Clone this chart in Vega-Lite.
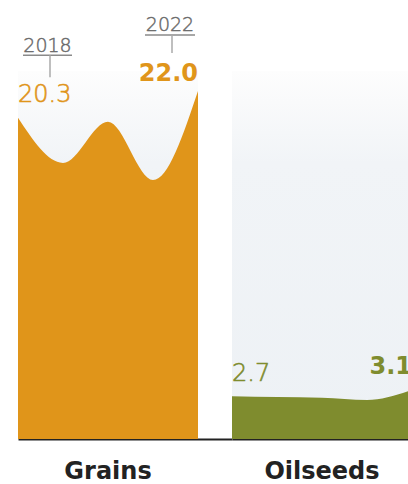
{
  "$schema": "https://vega.github.io/schema/vega-lite/v6.json",
  "autosize": {"type": "pad"},
  "padding": {"left": 18, "top": 15, "right": 0, "bottom": 0},
  "background": "#ffffff",
  "data": {"values": [
    {"crop": "Grains", "year": 2018, "value": 20.3},
    {"crop": "Grains", "year": 2019, "value": 17.45},
    {"crop": "Grains", "year": 2020, "value": 20.06},
    {"crop": "Grains", "year": 2021, "value": 16.37},
    {"crop": "Grains", "year": 2022, "value": 22.0},
    {"crop": "Oilseeds", "year": 2018, "value": 2.7},
    {"crop": "Oilseeds", "year": 2019, "value": 2.65},
    {"crop": "Oilseeds", "year": 2020, "value": 2.6},
    {"crop": "Oilseeds", "year": 2021, "value": 2.46},
    {"crop": "Oilseeds", "year": 2022, "value": 3.1}
  ]},
  "spacing": 0,
  "bounds": "flush",
  "resolve": {"scale": {"x": "independent", "y": "independent"}},
  "config": {
    "view": {"stroke": null},
    "text": {"font": "DejaVu Sans"}
  },
  "hconcat": [
    {
      "width": 214,
      "height": 368,
      "transform": [{"filter": "datum.crop === 'Grains'"}],
      "encoding": {
        "x": {"field": "year", "type": "quantitative", "scale": {"domain": [2018, 2022.7556], "nice": false, "zero": false},
              "axis": {"domain": true, "domainColor": "#222222", "domainWidth": 2, "ticks": false, "labels": false, "grid": false, "title": null}},
        "y": {"field": "value", "type": "quantitative", "scale": {"domain": [0, 23.26], "nice": false}, "axis": null}
      },
      "layer": [
        {
          "transform": [{"filter": "datum.year === 2018"}],
          "mark": {"type": "rect", "color": {"gradient": "linear", "x1": 0, "y1": 0, "x2": 0, "y2": 1,
            "stops": [{"offset": 0, "color": "#fdfdfd"}, {"offset": 0.25, "color": "#f1f4f7"}, {"offset": 1, "color": "#edf1f5"}]}},
          "encoding": {"x": {"datum": 2018}, "x2": {"datum": 2022}, "y": {"datum": 23.26}, "y2": {"datum": 0}}
        },
        {"mark": {"type": "area", "color": "#E0951A", "interpolate": "monotone"}},
        {
          "transform": [{"filter": "datum.year === 2018"}],
          "mark": {"type": "text", "align": "left", "baseline": "alphabetic", "dy": -16, "fontSize": 24, "fontWeight": 200, "color": "#E0951A", "stroke": "#E0951A", "strokeWidth": 0.6},
          "encoding": {"text": {"field": "value", "type": "quantitative", "format": ".1f"}}
        },
        {
          "transform": [{"filter": "datum.year === 2022"}],
          "mark": {"type": "text", "align": "right", "baseline": "alphabetic", "dy": -10, "fontSize": 24, "fontWeight": "bold", "color": "#E0951A"},
          "encoding": {"text": {"field": "value", "type": "quantitative", "format": ".1f"}}
        },
        {
          "transform": [{"filter": "datum.year === 2018"}],
          "mark": {"type": "text", "align": "center", "baseline": "alphabetic", "dx": 29.5, "dy": -66, "fontSize": 19, "fontWeight": 200, "color": "#6a6a6a", "stroke": "#6a6a6a", "strokeWidth": 0.45},
          "encoding": {"text": {"field": "year", "type": "nominal"}}
        },
        {
          "transform": [{"filter": "datum.year === 2018"}],
          "mark": {"type": "rule", "color": "#8a8a8a", "strokeWidth": 1.5, "xOffset": 5, "x2Offset": 54, "yOffset": -62.7},
          "encoding": {"x2": {"field": "year"}}
        },
        {
          "transform": [{"filter": "datum.year === 2018"}],
          "mark": {"type": "rule", "color": "#aaaaaa", "strokeWidth": 1.5, "xOffset": 32, "yOffset": -62.7, "y2Offset": -40.7},
          "encoding": {"y2": {"field": "value"}}
        },
        {
          "transform": [{"filter": "datum.year === 2022"}],
          "mark": {"type": "text", "align": "center", "baseline": "alphabetic", "dx": -28, "dy": -60, "fontSize": 19, "fontWeight": 200, "color": "#6a6a6a", "stroke": "#6a6a6a", "strokeWidth": 0.45},
          "encoding": {"text": {"field": "year", "type": "nominal"}}
        },
        {
          "transform": [{"filter": "datum.year === 2022"}],
          "mark": {"type": "rule", "color": "#8a8a8a", "strokeWidth": 1.5, "xOffset": -53, "x2Offset": -3, "yOffset": -56},
          "encoding": {"x2": {"field": "year"}}
        },
        {
          "transform": [{"filter": "datum.year === 2022"}],
          "mark": {"type": "rule", "color": "#aaaaaa", "strokeWidth": 1.5, "xOffset": -26, "yOffset": -56, "y2Offset": -38},
          "encoding": {"y2": {"field": "value"}}
        },
        {
          "transform": [{"filter": "datum.year === 2020"}],
          "mark": {"type": "text", "align": "center", "baseline": "alphabetic", "dy": 40, "fontSize": 24, "fontWeight": "bold", "color": "#222222"},
          "encoding": {"y": {"datum": 0}, "text": {"field": "crop", "type": "nominal"}}
        }
      ]
    },
    {
      "width": 176,
      "height": 368,
      "transform": [{"filter": "datum.crop === 'Oilseeds'"}],
      "encoding": {
        "x": {"field": "year", "type": "quantitative", "scale": {"domain": [2018, 2021.9111], "nice": false, "zero": false},
              "axis": {"domain": true, "domainColor": "#222222", "domainWidth": 2, "ticks": false, "labels": false, "grid": false, "title": null}},
        "y": {"field": "value", "type": "quantitative", "scale": {"domain": [0, 23.26], "nice": false}, "axis": null}
      },
      "layer": [
        {
          "transform": [{"filter": "datum.year === 2018"}],
          "mark": {"type": "rect", "clip": true, "color": {"gradient": "linear", "x1": 0, "y1": 0, "x2": 0, "y2": 1,
            "stops": [{"offset": 0, "color": "#fdfdfd"}, {"offset": 0.25, "color": "#f1f4f7"}, {"offset": 1, "color": "#edf1f5"}]}},
          "encoding": {"x": {"datum": 2018}, "x2": {"datum": 2022}, "y": {"datum": 23.26}, "y2": {"datum": 0}}
        },
        {"mark": {"type": "area", "color": "#7F8C2E", "interpolate": "monotone", "clip": true}},
        {
          "transform": [{"filter": "datum.year === 2018"}],
          "mark": {"type": "text", "align": "left", "baseline": "alphabetic", "dy": -15, "fontSize": 24, "fontWeight": 200, "color": "#7F8C2E", "stroke": "#7F8C2E", "strokeWidth": 0.6},
          "encoding": {"text": {"field": "value", "type": "quantitative", "format": ".1f"}}
        },
        {
          "transform": [{"filter": "datum.year === 2022"}],
          "mark": {"type": "text", "align": "right", "baseline": "alphabetic", "dy": -16, "fontSize": 24, "fontWeight": "bold", "color": "#7F8C2E", "clip": true},
          "encoding": {"text": {"field": "value", "type": "quantitative", "format": ".1f"}}
        },
        {
          "transform": [{"filter": "datum.year === 2020"}],
          "mark": {"type": "text", "align": "center", "baseline": "alphabetic", "dy": 40, "fontSize": 24, "fontWeight": "bold", "color": "#222222"},
          "encoding": {"y": {"datum": 0}, "text": {"field": "crop", "type": "nominal"}}
        }
      ]
    }
  ]
}
